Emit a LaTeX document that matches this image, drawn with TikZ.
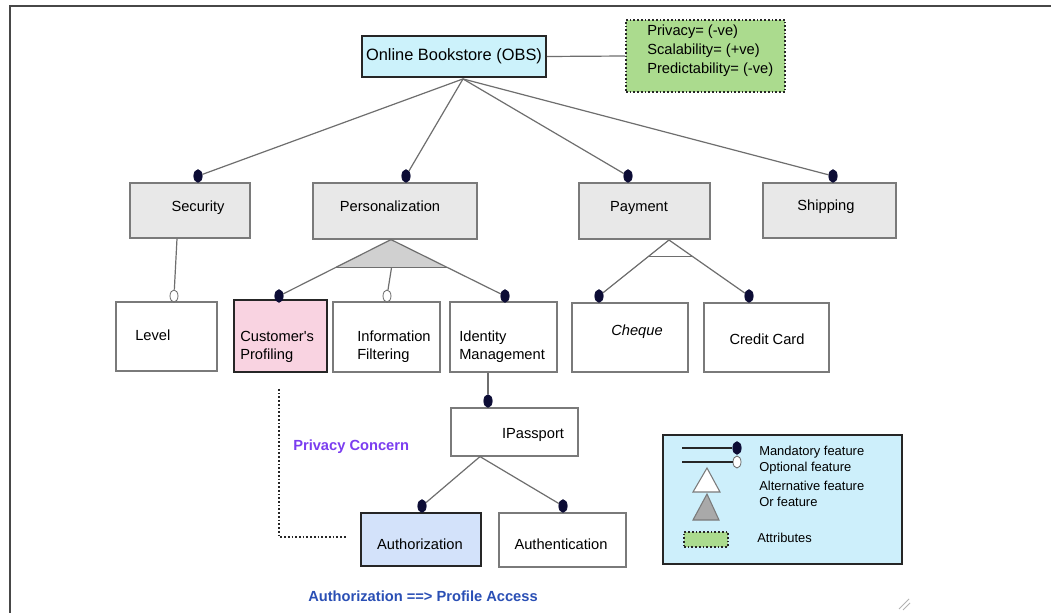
\documentclass[tikz,border=0pt]{standalone}
\usepackage{fontspec}
\setmainfont{Liberation Sans}
\usetikzlibrary{shapes.geometric,calc}
\definecolor{obsfill}{HTML}{CCF2FB}
\definecolor{legfill}{HTML}{CDEFFB}
\definecolor{attrfill}{HTML}{ABDB8E}
\definecolor{greyfill}{HTML}{E8E8E8}
\definecolor{pinkfill}{HTML}{F9D3E1}
\definecolor{bluefill}{HTML}{D3E2FA}
\definecolor{boxline}{HTML}{7A7A7A}
\definecolor{darkline}{HTML}{262626}
\definecolor{connc}{HTML}{6E6E6E}
\definecolor{dotc}{HTML}{0C0C35}
\definecolor{purpletxt}{HTML}{7B3DF0}
\definecolor{bluetxt}{HTML}{2A4FB5}
\definecolor{orfill}{HTML}{D0D0D0}
\definecolor{orleg}{HTML}{A9A9A9}
\begin{document}
\begin{tikzpicture}[x=0.75pt,y=-0.75pt,
  box/.style={rectangle,draw=boxline,line width=0.9pt,inner sep=0pt},
  gbox/.style={box,fill=greyfill},
  wbox/.style={box,fill=white},
  strongbox/.style={rectangle,draw=darkline,line width=1.4pt,inner sep=0pt},
  txt/.style={inner sep=0pt,font=\fontsize{11}{13.5}\selectfont,align=left},
  legtxt/.style={inner sep=0pt,anchor=west,font=\fontsize{9.7}{11}\selectfont},
  boldtxt/.style={inner sep=0pt,font=\fontsize{11}{13}\selectfont\bfseries},
  mdot/.style={ellipse,fill=dotc,draw=dotc,line width=0.5pt,minimum width=6.3pt,minimum height=9.5pt,inner sep=0pt},
  odot/.style={ellipse,fill=white,draw=darkline!70,line width=0.6pt,minimum width=6pt,minimum height=9pt,inner sep=0pt},
  conn/.style={draw=connc,line width=0.9pt},
  dots/.style={draw=darkline,line width=1pt,dash pattern=on 1.3pt off 1.5pt}
]
\useasboundingbox (0,0) rectangle (1051,613);
\fill[white] (0,0) rectangle (1051,613);
% window frame
\draw[darkline!85,line width=1.6pt] (10,613) -- (10,6) -- (1051,6);
\draw[gray!60,line width=0.6pt] (899,609) -- (909,599) (903,610) -- (910,603);

% root and attributes
\node[strongbox,fill=obsfill,minimum width=138pt,minimum height=30.75pt,font=\fontsize{12.3}{14}\selectfont] (obs) at (454,56.5) {Online Bookstore (OBS)};
\node[rectangle,fill=attrfill,dots,minimum width=119.25pt,minimum height=54pt,inner sep=0pt] (attr) at (705.5,56) {};
\node[txt,anchor=west,font=\fontsize{11}{14.25}\selectfont] (attrt) at (647,51) {Privacy= (-ve)\\Scalability= (+ve)\\Predictability= (-ve)};
\draw[conn] (obs.east) -- (attr.west);

% level 1
\node[gbox,minimum width=90pt,minimum height=41.25pt] (sec) at (190,210.5) {};
\node[txt] (sect) at (198,208) {Security};
\node[gbox,minimum width=123pt,minimum height=42pt] (pers) at (395,211) {};
\node[txt] (perst) at (390,206) {Personalization};
\node[gbox,minimum width=98.25pt,minimum height=42pt] (pay) at (644.5,211) {};
\node[txt] (payt) at (639,208) {Payment};
\node[gbox,minimum width=99.75pt,minimum height=41.25pt] (ship) at (829.5,210.5) {};
\node[txt] (shipt) at (826,207) {Shipping};

\node[mdot] (dsec) at (198,176) {};
\node[mdot] (dpers) at (406,176) {};
\node[mdot] (dpay) at (628,176) {};
\node[mdot] (dship) at (833,176) {};

\coordinate (hub) at ($(obs.south)+(9,1)$);
\draw[conn] (hub) -- (dsec);
\draw[conn] (hub) -- (dpers);
\draw[conn] (hub) -- (dpay);
\draw[conn] (hub) -- (dship);

% level 2
\node[wbox,minimum width=75.75pt,minimum height=51.75pt] (level) at (166.5,336.5) {};
\node[txt,anchor=west] (levelt) at (135,335) {Level};
\node[strongbox,fill=pinkfill,minimum width=69.75pt,minimum height=54pt] (cust) at (280.5,336) {};
\node[txt,anchor=west] (custt) at (240,347) {Customer\textquotesingle s\\Profiling};
\node[wbox,minimum width=80.25pt,minimum height=52.5pt] (info) at (386.5,337) {};
\node[txt,anchor=west] (infot) at (357,347) {Information\\Filtering};
\node[wbox,minimum width=80.25pt,minimum height=52.5pt] (ident) at (503.5,337) {};
\node[txt,anchor=west] (identt) at (459,347) {Identity\\Management};
\node[wbox,minimum width=87pt,minimum height=51.75pt] (cheq) at (630,337.5) {};
\node[txt] (cheqt) at (637,332) {\itshape Cheque};
\node[wbox,minimum width=93.75pt,minimum height=51.75pt] (cred) at (766.5,337.5) {};
\node[txt] (credt) at (767,339) {Credit Card};

\node[odot] (dlevel) at (174,296) {};
\node[mdot] (dcust) at (279,296) {};
\node[odot] (dinfo) at (387,296) {};
\node[mdot] (dident) at (505,296) {};
\node[mdot] (dcheq) at (599,296) {};
\node[mdot] (dcred) at (749,296) {};

\draw[conn] ($(sec.south)+(-13,0)$) -- (dlevel);

% or-group under Personalization
\coordinate (orapex) at ($(pers.south)+(-4,0)$);
\coordinate (orL) at ($(orapex)!0.5!(dcust)$);
\coordinate (orR) at ($(orapex)!0.5!(dident)$);
\fill[orfill] (orapex) -- (orL) -- (orR) -- cycle;
\draw[conn] (orapex) -- (dcust);
\draw[conn] (orapex) -- (dident);
\draw[conn] (orL) -- (orR);
\draw[conn] ($(orL)!0.5!(orR)$) -- (dinfo);

% alternative group under Payment
\coordinate (altapex) at (669,240);
\coordinate (altL) at ($(altapex)!0.3!(dcheq)$);
\coordinate (altR) at ($(altapex)!0.3!(dcred)$);
\draw[conn] (altapex) -- (dcheq);
\draw[conn] (altapex) -- (dcred);
\draw[conn] (altL) -- (altR);

% IPassport
\node[wbox,minimum width=95.25pt,minimum height=36pt] (ipass) at (514.5,432) {};
\node[txt] (ipasst) at (533,435) {IPassport};
\node[mdot] (dipass) at (488,401) {};
\draw[conn] (ident.south -| dipass) -- (dipass);

\node[strongbox,fill=bluefill,minimum width=90pt,minimum height=39.75pt] (authz) at (421,539.5) {};
\node[txt] (authzt) at (420,544) {Authorization};
\node[wbox,minimum width=95.25pt,minimum height=40.5pt] (authn) at (562.5,540) {};
\node[txt] (authnt) at (561,544) {Authentication};
\node[mdot] (dauthz) at (422,506) {};
\node[mdot] (dauthn) at (563,506) {};
\coordinate (iphub) at ($(ipass.south)+(-34.5,0)$);
\draw[conn] (iphub) -- (dauthz);
\draw[conn] (iphub) -- (dauthn);

% privacy concern
\coordinate (pc1) at (279,389);
\coordinate (pc2) at (279,537);
\coordinate (pc3) at (347,537);
\draw[dots] (pc1) -- (pc2) -- (pc3);
\node[boldtxt,text=purpletxt,anchor=west] (pct) at (293,447) {Privacy Concern};
\node[boldtxt,text=bluetxt,anchor=west] (apt) at (308,596) {Authorization ==> Profile Access};

% legend
\node[strongbox,fill=legfill,minimum width=179.25pt,minimum height=96.75pt,line width=1.2pt] (leg) at (782.5,499.5) {};
\coordinate (lm1) at (682,448);
\node[mdot] (lmd) at (737,448) {};
\draw[conn,draw=darkline] (lm1) -- (lmd);
\coordinate (lo1) at (682,462);
\node[odot] (lod) at (737,462) {};
\draw[conn,draw=darkline] (lo1) -- (lod);
\draw[fill=white,draw=boxline,line width=0.8pt] (707,468) -- (693,492) -- (720,492) -- cycle;
\draw[fill=orleg,draw=boxline,line width=0.8pt] (707,494) -- (693,520) -- (719,520) -- cycle;
\node[rectangle,fill=attrfill,dots,minimum width=33pt,minimum height=11.25pt,inner sep=0pt] (lattr) at (706,539.5) {};
\node[legtxt] (l1) at (759,452) {Mandatory feature};
\node[legtxt] (l2) at (759,468) {Optional feature};
\node[legtxt] (l3) at (759,486) {Alternative feature};
\node[legtxt] (l4) at (759,502) {Or feature};
\node[legtxt] (l5) at (757,538) {Attributes};
\end{tikzpicture}
\end{document}
